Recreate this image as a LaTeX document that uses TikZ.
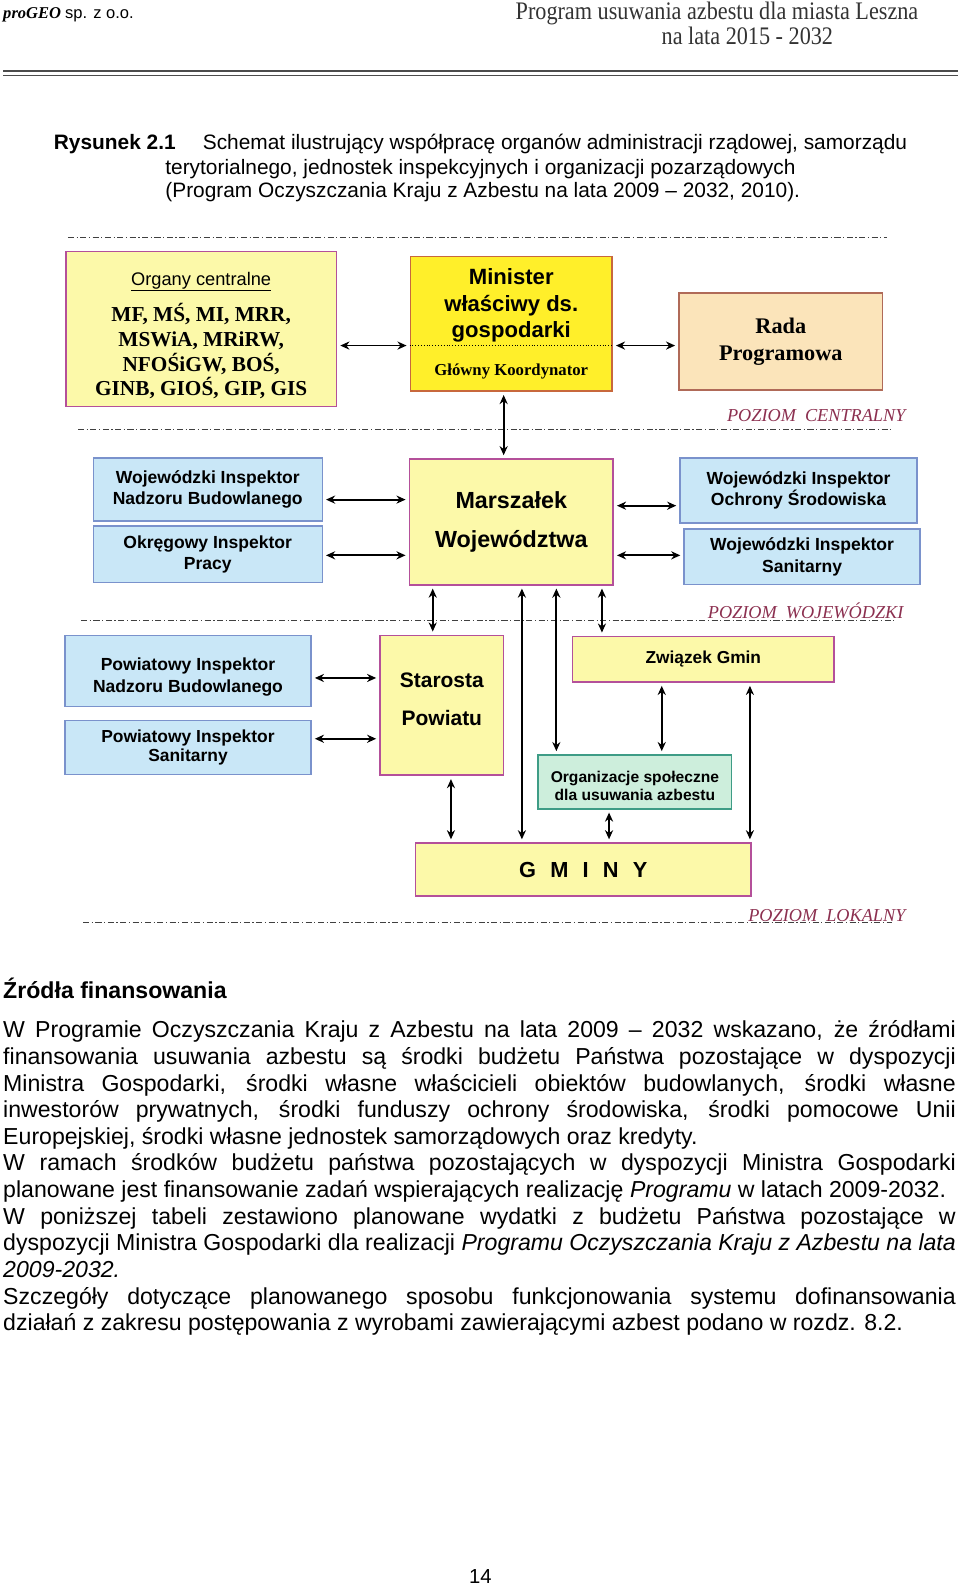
\documentclass[tikz,border=0pt]{standalone}
\usepackage{fontspec}
\setmainfont{Liberation Serif}
\setsansfont{Liberation Sans}
\newfontfamily\headserif[FakeStretch=0.88]{Liberation Serif}
\usetikzlibrary{arrows.meta}
\definecolor{boxyellow}{HTML}{FCF9A9}
\definecolor{brightyellow}{HTML}{FFEF2A}
\definecolor{radabeige}{HTML}{FBE4BA}
\definecolor{boxblue}{HTML}{C9E7F7}
\definecolor{borderblue}{HTML}{7A92CC}
\definecolor{boxmint}{HTML}{CDEEDC}
\definecolor{bordermint}{HTML}{3E9C86}
\definecolor{bordermagenta}{HTML}{B4509A}
\definecolor{borderorange}{HTML}{C8683C}
\definecolor{borderbrown}{HTML}{B06A58}
\definecolor{poziomred}{HTML}{8C3050}
\newcommand{\fs}[2]{\fontsize{#1pt}{#2pt}\selectfont}

\begin{document}
\begin{tikzpicture}[x=1pt, y=-1pt,
    ybox/.style={draw=bordermagenta, fill=boxyellow, line width=1.6pt, inner sep=0pt, align=center},
    bbox/.style={draw=borderblue, fill=boxblue, line width=1.4pt, inner sep=0pt, align=center,
      font=\sffamily\bfseries\fs{17.3}{21}},
    boxtext/.style={inner sep=0pt, align=center},
    arr/.style={<->, line width=1.8pt, shorten <=3pt, shorten >=3pt},
    level/.style={line width=0.8pt, black!75, dash pattern=on 6pt off 2.5pt on 1.2pt off 2.5pt},
    poziom/.style={anchor=base east, text=poziomred, font=\rmfamily\itshape\fs{18}{18}},
    >={Stealth[length=9pt,width=8pt]}]
  \fill[white] (0,0) rectangle (947,1568);
  \useasboundingbox (0,0) rectangle (947,1568);

  % page header
  \node[anchor=base west, inner sep=0pt, font=\fs{16.3}{18}] (firm) at (3,18)
    {\textbf{\textit{proGEO}} {\sffamily sp. z o.o.}};
  \node[anchor=base, inner sep=0pt, text=black!80, font=\headserif\fs{24.9}{25}] (title1) at (707.5,19)
    {Program usuwania azbestu dla miasta Leszna};
  \node[anchor=base, inner sep=0pt, text=black!80, font=\headserif\fs{24.9}{25}] (title2) at (737.5,44)
    {na lata 2015 - 2032};
  \draw[line width=1.3pt, black!70] (3,70) -- (945,70);
  \draw[line width=1.3pt, black!70] (3,74.5) -- (945,74.5);

  % caption
  \node[anchor=base west, inner sep=0pt, font=\sffamily\bfseries\fs{20.6}{24}] (figlabel) at (53,148) {Rysunek 2.1};
  \node[anchor=base west, inner sep=0pt, font=\sffamily\fs{20.6}{24}] (cap1) at (200,148)
    {Schemat ilustrujący współpracę organów administracji rządowej, samorządu};
  \node[anchor=base west, inner sep=0pt, font=\sffamily\fs{20.6}{24}] (cap2) at (163,172)
    {terytorialnego, jednostek inspekcyjnych i organizacji pozarządowych};
  \node[anchor=base west, inner sep=0pt, font=\sffamily\fs{20.6}{24}] (cap3) at (163,195)
    {(Program Oczyszczania Kraju z Azbestu na lata 2009 – 2032, 2010).};

  % level lines
  \draw[level] (67,234) -- (875,234);
  \draw[level] (77,424) -- (880,424);
  \draw[level] (80,612) -- (882,612);
  \draw[level] (82,910) -- (880,910);
  \node[poziom] (pcentral) at (897,416) {POZIOM\ \ CENTRALNY};
  \node[poziom] (pwoj) at (895,610) {POZIOM\ \ WOJEWÓDZKI};
  \node[poziom] (plokal) at (897,909) {POZIOM\ \ LOKALNY};

  % central level
  \node[ybox, minimum width=267pt, minimum height=153pt] (organy) at (198.5,324.5) {};
  \node[boxtext, font=\sffamily\fs{18}{20}] (organyhead) at (198.5,278) {\underline{Organy centralne}};
  \node[boxtext, font=\rmfamily\bfseries\fs{21}{24.5}] (organylist) at (198.5,346.5)
    {MF, MŚ, MI, MRR,\\MSWiA, MRiRW,\\NFOŚiGW, BOŚ,\\GINB, GIOŚ, GIP, GIS};
  \node[draw=borderorange, fill=brightyellow, line width=1.6pt, minimum width=199pt, minimum height=133pt] (minister) at (504.5,319.5) {};
  \node[boxtext, font=\sffamily\bfseries\fs{21.8}{26}] (ministerhead) at (504.5,301.5)
    {Minister\\właściwy ds.\\gospodarki};
  \draw[dotted, line width=0.8pt] (minister.west |- 0,341) -- (minister.east |- 0,341);
  \node[boxtext, font=\rmfamily\bfseries\fs{16.5}{18}] (koordynator) at (504.5,367) {Główny Koordynator};
  \node[draw=borderbrown, fill=radabeige, line width=1.6pt, inner sep=0pt, align=center,
    font=\rmfamily\bfseries\fs{22}{27}, minimum width=201pt, minimum height=96pt] (rada) at (770.5,337) {Rada\\Programowa};

  % voivodeship level
  \node[bbox, minimum width=226pt, minimum height=62pt] (winb) at (205,483) {Wojewódzki Inspektor\\Nadzoru Budowlanego};
  \node[bbox, minimum width=226pt, minimum height=56pt] (oip) at (205,547) {Okręgowy Inspektor\\Pracy};
  \node[ybox, font=\sffamily\bfseries\fs{23}{39}, minimum width=201pt, minimum height=124pt] (marszalek) at (504.5,515)
    {Marszałek\\Województwa};
  \node[bbox, minimum width=234pt, minimum height=64pt] (wios) at (788,484) {Wojewódzki Inspektor\\Ochrony Środowiska};
  \node[bbox, minimum width=233pt, minimum height=55pt] (wis) at (791.5,549.5) {Wojewódzki Inspektor\\Sanitarny};

  % local level
  \node[bbox, minimum width=243pt, minimum height=70pt] (pinb) at (185.5,662) {};
  \node[boxtext, font=\sffamily\bfseries\fs{17.3}{21}] (pinbtext) at (185.5,668) {Powiatowy Inspektor\\Nadzoru Budowlanego};
  \node[bbox, font=\sffamily\bfseries\fs{17.2}{19}, minimum width=243pt, minimum height=53pt] (pis) at (185.5,737.5) {Powiatowy Inspektor\\Sanitarny};
  \node[ybox, minimum width=122pt, minimum height=138pt] (starosta) at (436,696) {};
  \node[boxtext, font=\sffamily\bfseries\fs{20.7}{37}] (starostatext) at (436,690) {Starosta\\Powiatu};
  \node[ybox, font=\sffamily\bfseries\fs{17.1}{20}, minimum width=258pt, minimum height=45pt] (zwiazek) at (694,650.5) {Związek Gmin};
  \node[draw=bordermint, fill=boxmint, line width=1.6pt, minimum width=191pt, minimum height=53pt] (organizacje) at (626.5,771.5) {};
  \node[boxtext, font=\sffamily\bfseries\fs{15.4}{18}] (organizacjetext) at (626.5,775.5)
    {Organizacje społeczne\\dla usuwania azbestu};
  \node[ybox, font=\sffamily\bfseries\fs{21.5}{24}, minimum width=331pt, minimum height=52pt] (gminy) at (575.5,858)
    {G\hspace{14pt}M\hspace{14pt}I\hspace{14pt}N\hspace{14pt}Y};

  % connectors
  \draw[arr] (organy.east |- 0,341) -- (minister.west |- 0,341);
  \draw[arr] (minister.east |- 0,341) -- (rada.west |- 0,341);
  \draw[arr] (minister.south -| 497,0) -- (marszalek.north -| 497,0);
  \draw[arr] (winb.east |- 0,493) -- (marszalek.west |- 0,493);
  \draw[arr] (oip.east |- 0,548) -- (marszalek.west |- 0,548);
  \draw[arr] (marszalek.east |- 0,499) -- (wios.west |- 0,499);
  \draw[arr] (marszalek.east |- 0,548) -- (wis.west |- 0,548);
  \draw[arr] (pinb.east |- 0,669) -- (starosta.west |- 0,669);
  \draw[arr] (pis.east |- 0,729) -- (starosta.west |- 0,729);
  \draw[arr] (marszalek.south -| 427,0) -- (starosta.north -| 427,0);
  \draw[arr] (marszalek.south -| 515,0) -- (gminy.north -| 515,0);
  \draw[arr] (marszalek.south -| 549,0) -- (organizacje.north -| 549,0);
  \draw[arr] (marszalek.south -| 594,0) -- (zwiazek.north -| 594,0);
  \draw[arr] (starosta.south -| 445,0) -- (gminy.north -| 445,0);
  \draw[arr] (organizacje.south -| 601,0) -- (gminy.north -| 601,0);
  \draw[arr] (zwiazek.south -| 653,0) -- (organizacje.north -| 653,0);
  \draw[arr] (zwiazek.south -| 740,0) -- (gminy.north -| 740,0);

  % text below the figure
  \node[anchor=base west, inner sep=0pt, font=\sffamily\bfseries\fs{22.8}{26.3}] (zrodla) at (3,985) {Źródła finansowania};
  \node[anchor=base west, inner sep=0pt, text width=940pt, align=justify, font=\sffamily\fs{22.8}{26.3}] (body) at (3,1024)
    {\hyphenpenalty=10000 \tolerance=9999
    W Programie Oczyszczania Kraju z Azbestu na lata 2009 – 2032 wskazano, że źródłami\linebreak
    finansowania usuwania azbestu są środki budżetu Państwa pozostające w dyspozycji\linebreak
    Ministra Gospodarki, środki własne właścicieli obiektów budowlanych, środki własne\linebreak
    inwestorów prywatnych, środki funduszy ochrony środowiska, środki pomocowe Unii\linebreak
    Europejskiej, środki własne jednostek samorządowych oraz kredyty.\par
    W ramach środków budżetu państwa pozostających w dyspozycji Ministra Gospodarki\linebreak
    planowane jest finansowanie zadań wspierających realizację \textit{Programu} w latach 2009-2032.\par
    W poniższej tabeli zestawiono planowane wydatki z budżetu Państwa pozostające w\linebreak
    dyspozycji Ministra Gospodarki dla realizacji \textit{Programu Oczyszczania Kraju z Azbestu na lata}\linebreak
    \textit{2009-2032.}\par
    Szczegóły dotyczące planowanego sposobu funkcjonowania systemu dofinansowania\linebreak
    działań z zakresu postępowania z wyrobami zawierającymi azbest podano w rozdz. 8.2.\par};
  \node[anchor=base, inner sep=0pt, font=\sffamily\fs{20}{22}] (pagenum) at (474,1563) {14};
\end{tikzpicture}
\end{document}
